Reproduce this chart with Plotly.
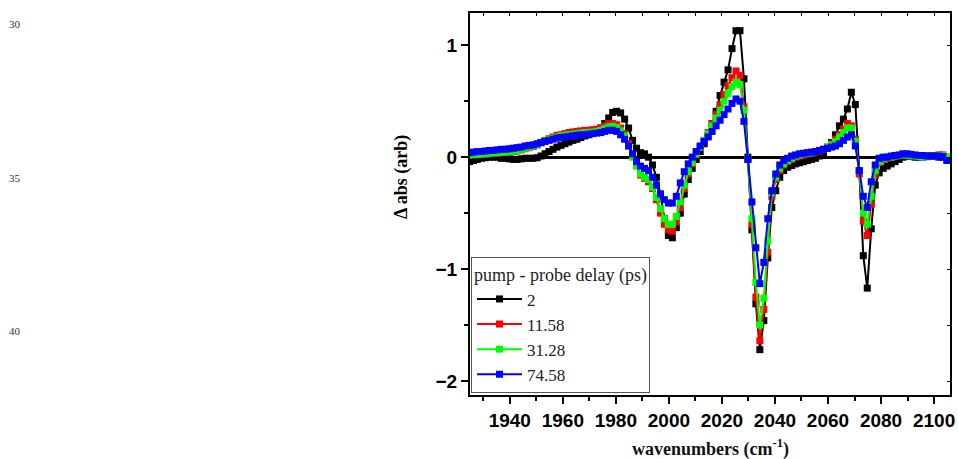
import plotly.graph_objects as go

wavenumber = [
    1924.8, 1926.3, 1927.8, 1929.3, 1930.8, 1932.3, 1933.8, 1935.3, 1936.8, 1938.3,
    1939.8, 1941.3, 1942.8, 1944.3, 1945.8, 1947.3, 1948.8, 1950.3, 1951.8, 1953.3,
    1954.8, 1956.3, 1957.8, 1959.3, 1960.8, 1962.3, 1963.8, 1965.3, 1966.8, 1968.3,
    1969.8, 1971.3, 1972.8, 1974.3, 1975.8, 1977.3, 1978.8, 1980.3, 1981.8, 1983.3,
    1984.8, 1986.3, 1987.8, 1989.3, 1990.8, 1992.3, 1993.8, 1995.3, 1996.8, 1998.3,
    1999.8, 2001.3, 2002.8, 2004.3, 2005.8, 2007.3, 2008.8, 2010.3, 2011.8, 2013.3,
    2014.8, 2016.3, 2017.8, 2019.3, 2020.8, 2022.3, 2023.8, 2025.3, 2026.8, 2028.3,
    2029.8, 2031.3, 2032.8, 2034.3, 2035.8, 2037.3, 2038.8, 2040.3, 2041.8, 2043.3,
    2044.8, 2046.3, 2047.8, 2049.3, 2050.8, 2052.3, 2053.8, 2055.3, 2056.8, 2058.3,
    2059.8, 2061.3, 2062.8, 2064.3, 2065.8, 2067.3, 2068.8, 2070.3, 2071.8, 2073.3,
    2074.8, 2076.3, 2077.8, 2079.3, 2080.8, 2082.3, 2083.8, 2085.3, 2086.8, 2088.3,
    2089.8, 2091.3, 2092.8, 2094.3, 2095.8, 2097.3, 2098.8, 2100.3, 2101.8, 2103.3,
    2104.8,
]

delay_2 = [
    -0.04, -0.03, -0.02, -0.01, -0.005, 0.0, 0.0, 0.0, -0.01, -0.01,
    -0.015, -0.02, -0.02, -0.015, -0.01, -0.01, -0.01, -0.005, 0.01, 0.03,
    0.05, 0.07, 0.09, 0.105, 0.12, 0.135, 0.15, 0.16, 0.175, 0.19,
    0.2, 0.215, 0.23, 0.26, 0.3, 0.35, 0.40, 0.41, 0.395, 0.34,
    0.26, 0.15, 0.08, 0.04, 0.03, 0.0, -0.07, -0.18, -0.33, -0.55,
    -0.70, -0.72, -0.63, -0.50, -0.33, -0.2, -0.1, -0.02, 0.05, 0.12,
    0.19, 0.30, 0.41, 0.55, 0.67, 0.78, 0.97, 1.13, 1.13, 0.70,
    0.0, -0.65, -1.31, -1.72, -1.46, -0.9, -0.45, -0.3, -0.18, -0.12,
    -0.09, -0.075, -0.06, -0.05, -0.04, -0.03, -0.02, -0.01, 0.01, 0.04,
    0.08, 0.13, 0.2, 0.28, 0.34, 0.43, 0.58, 0.47, -0.12, -0.88,
    -1.17, -0.64, -0.25, -0.14, -0.1, -0.08, -0.06, -0.04, -0.02, 0.0,
    0.01, 0.01, 0.0, 0.0, 0.0, 0.005, 0.01, 0.01, 0.0, 0.0,
    -0.01,
]

delay_11_58 = [
    0.02, 0.02, 0.02, 0.025, 0.03, 0.03, 0.035, 0.035, 0.04, 0.04,
    0.045, 0.05, 0.055, 0.065, 0.075, 0.085, 0.095, 0.11, 0.13, 0.15,
    0.165, 0.18, 0.195, 0.2, 0.21, 0.22, 0.225, 0.23, 0.235, 0.24,
    0.24, 0.245, 0.25, 0.26, 0.28, 0.3, 0.3, 0.29, 0.26, 0.21,
    0.12, 0.02, -0.07, -0.16, -0.19, -0.22, -0.28, -0.38, -0.5, -0.6,
    -0.65, -0.66, -0.58, -0.45, -0.28, -0.15, -0.06, 0.02, 0.09, 0.15,
    0.22, 0.3, 0.38, 0.47, 0.56, 0.64, 0.71, 0.77, 0.73, 0.45,
    -0.02, -0.6, -1.25, -1.64, -1.36, -0.85, -0.35, -0.2, -0.12, -0.07,
    -0.04, -0.02, 0.0, 0.01, 0.02, 0.03, 0.035, 0.045, 0.055, 0.07,
    0.09, 0.12, 0.16, 0.2, 0.25, 0.3, 0.28, 0.16, -0.15, -0.57,
    -0.7, -0.42, -0.15, -0.05, -0.02, -0.01, 0.0, 0.01, 0.015, 0.025,
    0.025, 0.02, 0.015, 0.01, 0.01, 0.01, 0.01, 0.015, 0.02, 0.02,
    0.0,
]

delay_31_28 = [
    0.02, 0.025, 0.025, 0.03, 0.03, 0.035, 0.04, 0.04, 0.045, 0.045,
    0.05, 0.055, 0.06, 0.07, 0.08, 0.09, 0.1, 0.11, 0.13, 0.145,
    0.16, 0.17, 0.18, 0.19, 0.195, 0.2, 0.205, 0.21, 0.215, 0.22,
    0.22, 0.225, 0.23, 0.24, 0.255, 0.27, 0.275, 0.265, 0.235, 0.19,
    0.1, 0.0, -0.08, -0.15, -0.18, -0.2, -0.27, -0.36, -0.46, -0.55,
    -0.6, -0.6, -0.53, -0.4, -0.25, -0.13, -0.05, 0.03, 0.09, 0.15,
    0.21, 0.28, 0.35, 0.42, 0.5, 0.57, 0.63, 0.67, 0.65, 0.42,
    -0.02, -0.55, -1.12, -1.5, -1.26, -0.75, -0.32, -0.18, -0.1, -0.06,
    -0.03, -0.01, 0.01, 0.02, 0.03, 0.035, 0.04, 0.05, 0.06, 0.07,
    0.09, 0.11, 0.14, 0.18, 0.22, 0.26, 0.26, 0.14, -0.12, -0.5,
    -0.6, -0.35, -0.12, -0.04, -0.01, 0.0, 0.0, 0.01, 0.015, 0.02,
    0.02, 0.015, 0.01, 0.005, 0.0, 0.005, 0.01, 0.01, 0.015, 0.015,
    0.0,
]

delay_74_58 = [
    0.04, 0.045, 0.05, 0.05, 0.055, 0.06, 0.06, 0.065, 0.07, 0.07,
    0.075, 0.08, 0.085, 0.09, 0.1, 0.105, 0.11, 0.12, 0.13, 0.14,
    0.15, 0.16, 0.17, 0.175, 0.18, 0.185, 0.19, 0.195, 0.2, 0.2,
    0.205, 0.21, 0.215, 0.22, 0.23, 0.24, 0.24, 0.23, 0.2, 0.16,
    0.1, 0.03, -0.04, -0.08, -0.1, -0.12, -0.18, -0.25, -0.33, -0.38,
    -0.41, -0.41, -0.35, -0.23, -0.13, -0.06, 0.0, 0.05, 0.1, 0.14,
    0.18, 0.23, 0.28, 0.33, 0.38, 0.43, 0.48, 0.52, 0.5, 0.32,
    -0.02, -0.4, -0.81, -1.13, -0.94, -0.55, -0.3, -0.15, -0.07, -0.03,
    -0.01, 0.01, 0.02, 0.03, 0.035, 0.04, 0.045, 0.05, 0.06, 0.07,
    0.08, 0.09, 0.1, 0.12, 0.15, 0.18, 0.2, 0.1, -0.12, -0.35,
    -0.45, -0.22, -0.07, -0.01, 0.0, 0.0, 0.01, 0.015, 0.02, 0.03,
    0.03, 0.025, 0.02, 0.015, 0.015, 0.01, 0.01, 0.01, 0.01, 0.005,
    -0.03,
]

series_names = ["2", "11.58", "31.28", "74.58"]
series_values = [delay_2, delay_11_58, delay_31_28, delay_74_58]
series_colors = ["#000000", "#FF0000", "#00FF00", "#0000FF"]

x_ticks = [1940, 1960, 1980, 2000, 2020, 2040, 2060, 2080, 2100]
y_ticks = [-2, -1, 0, 1]
line_numbers = ["30", "35", "40"]

SERIF = "Liberation Serif, Times New Roman, serif"
SANS = "Liberation Sans, Arial, sans-serif"

fig = go.Figure()
for name, vals, col in zip(series_names, series_values, series_colors):
    fig.add_trace(go.Scatter(
        x=wavenumber, y=vals, name=name, mode="lines+markers",
        line=dict(color=col, width=2),
        marker=dict(symbol="square", size=7, color=col, line=dict(width=0)),
        cliponaxis=True,
    ))

# carrier for the small mirrored ticks on the top/right frame
fig.add_trace(go.Scatter(x=[1925], y=[0], xaxis="x2", yaxis="y2", mode="markers",
                         marker=dict(opacity=0), showlegend=False, hoverinfo="skip"))

L, R, T, B = 470, 8, 13, 64
W, H = 958, 459
pw = W - L - R
ph = H - T - B

fig.update_layout(
    width=W, height=H,
    margin=dict(l=L, r=R, t=T, b=B, pad=0, autoexpand=False),
    paper_bgcolor="white", plot_bgcolor="white",
    showlegend=True,
    legend=dict(
        x=(471 - L) / pw, y=(H - B - 257) / ph, xanchor="left", yanchor="top",
        bgcolor="white", bordercolor="#555555", borderwidth=1,
        font=dict(family=SERIF, size=17, color="#222222"),
        title=dict(text="pump - probe delay (ps)",
                   font=dict(family=SERIF, size=18, color="#222222")),
        itemwidth=45, tracegroupgap=0,
    ),
    xaxis=dict(
        range=[1925, 2106], tickmode="array", tickvals=x_ticks,
        ticks="outside", ticklen=7, tickwidth=1.5, tickcolor="black",
        minor=dict(dtick=10, ticks="outside", ticklen=4, tickwidth=1.5, tickcolor="black", showgrid=False),
        showline=True, linecolor="black", linewidth=2, mirror=True,
        showgrid=False, zeroline=False,
        tickfont=dict(family=SANS, size=19, color="black", weight="bold"),
    ),
    yaxis=dict(
        range=[-2.125, 1.288], tickmode="array", tickvals=y_ticks,
        ticks="outside", ticklen=7, tickwidth=1.5, tickcolor="black",
        minor=dict(dtick=0.5, ticks="outside", ticklen=4, tickwidth=1.5, tickcolor="black", showgrid=False),
        showline=True, linecolor="black", linewidth=2, mirror=True,
        showgrid=False, zeroline=True, zerolinecolor="black", zerolinewidth=2.5,
        tickfont=dict(family=SANS, size=19, color="black", weight="bold"),
    ),
    xaxis2=dict(
        overlaying="x", side="top", range=[1925, 2106], dtick=10, tick0=1920,
        ticks="inside", ticklen=3, tickwidth=1.2, tickcolor="black",
        showticklabels=False, showgrid=False, zeroline=False, showline=False,
    ),
    yaxis2=dict(
        overlaying="y", side="right", range=[-2.125, 1.288], dtick=0.5, tick0=0,
        ticks="inside", ticklen=3, tickwidth=1.2, tickcolor="black",
        showticklabels=False, showgrid=False, zeroline=False, showline=False,
    ),
)

annotations = [
    dict(text="<b>Δ abs (arb)</b>", textangle=-90, xref="paper", yref="paper",
         x=(401 - L) / pw, y=(H - B - 177) / ph, xanchor="center", yanchor="middle",
         showarrow=False, font=dict(family=SERIF, size=18, color="black")),
    dict(text="<b>wavenumbers (cm<sup>-1</sup>)</b>", xref="paper", yref="paper",
         x=0.5, y=(H - B - 448) / ph, xanchor="center", yanchor="middle",
         showarrow=False, font=dict(family=SERIF, size=18, color="#111111")),
]
for txt, py in zip(line_numbers, [24, 178, 331]):
    annotations.append(dict(text=txt, xref="paper", yref="paper",
                            x=(15 - L) / pw, y=(H - B - py) / ph,
                            xanchor="center", yanchor="middle", showarrow=False,
                            font=dict(family=SERIF, size=11, color="#333333")))
fig.update_layout(annotations=annotations)

fig.write_html(
    "out.html",
    config={"displayModeBar": False},
    post_script="document.body.style.margin='0';document.body.style.padding='0';",
)
